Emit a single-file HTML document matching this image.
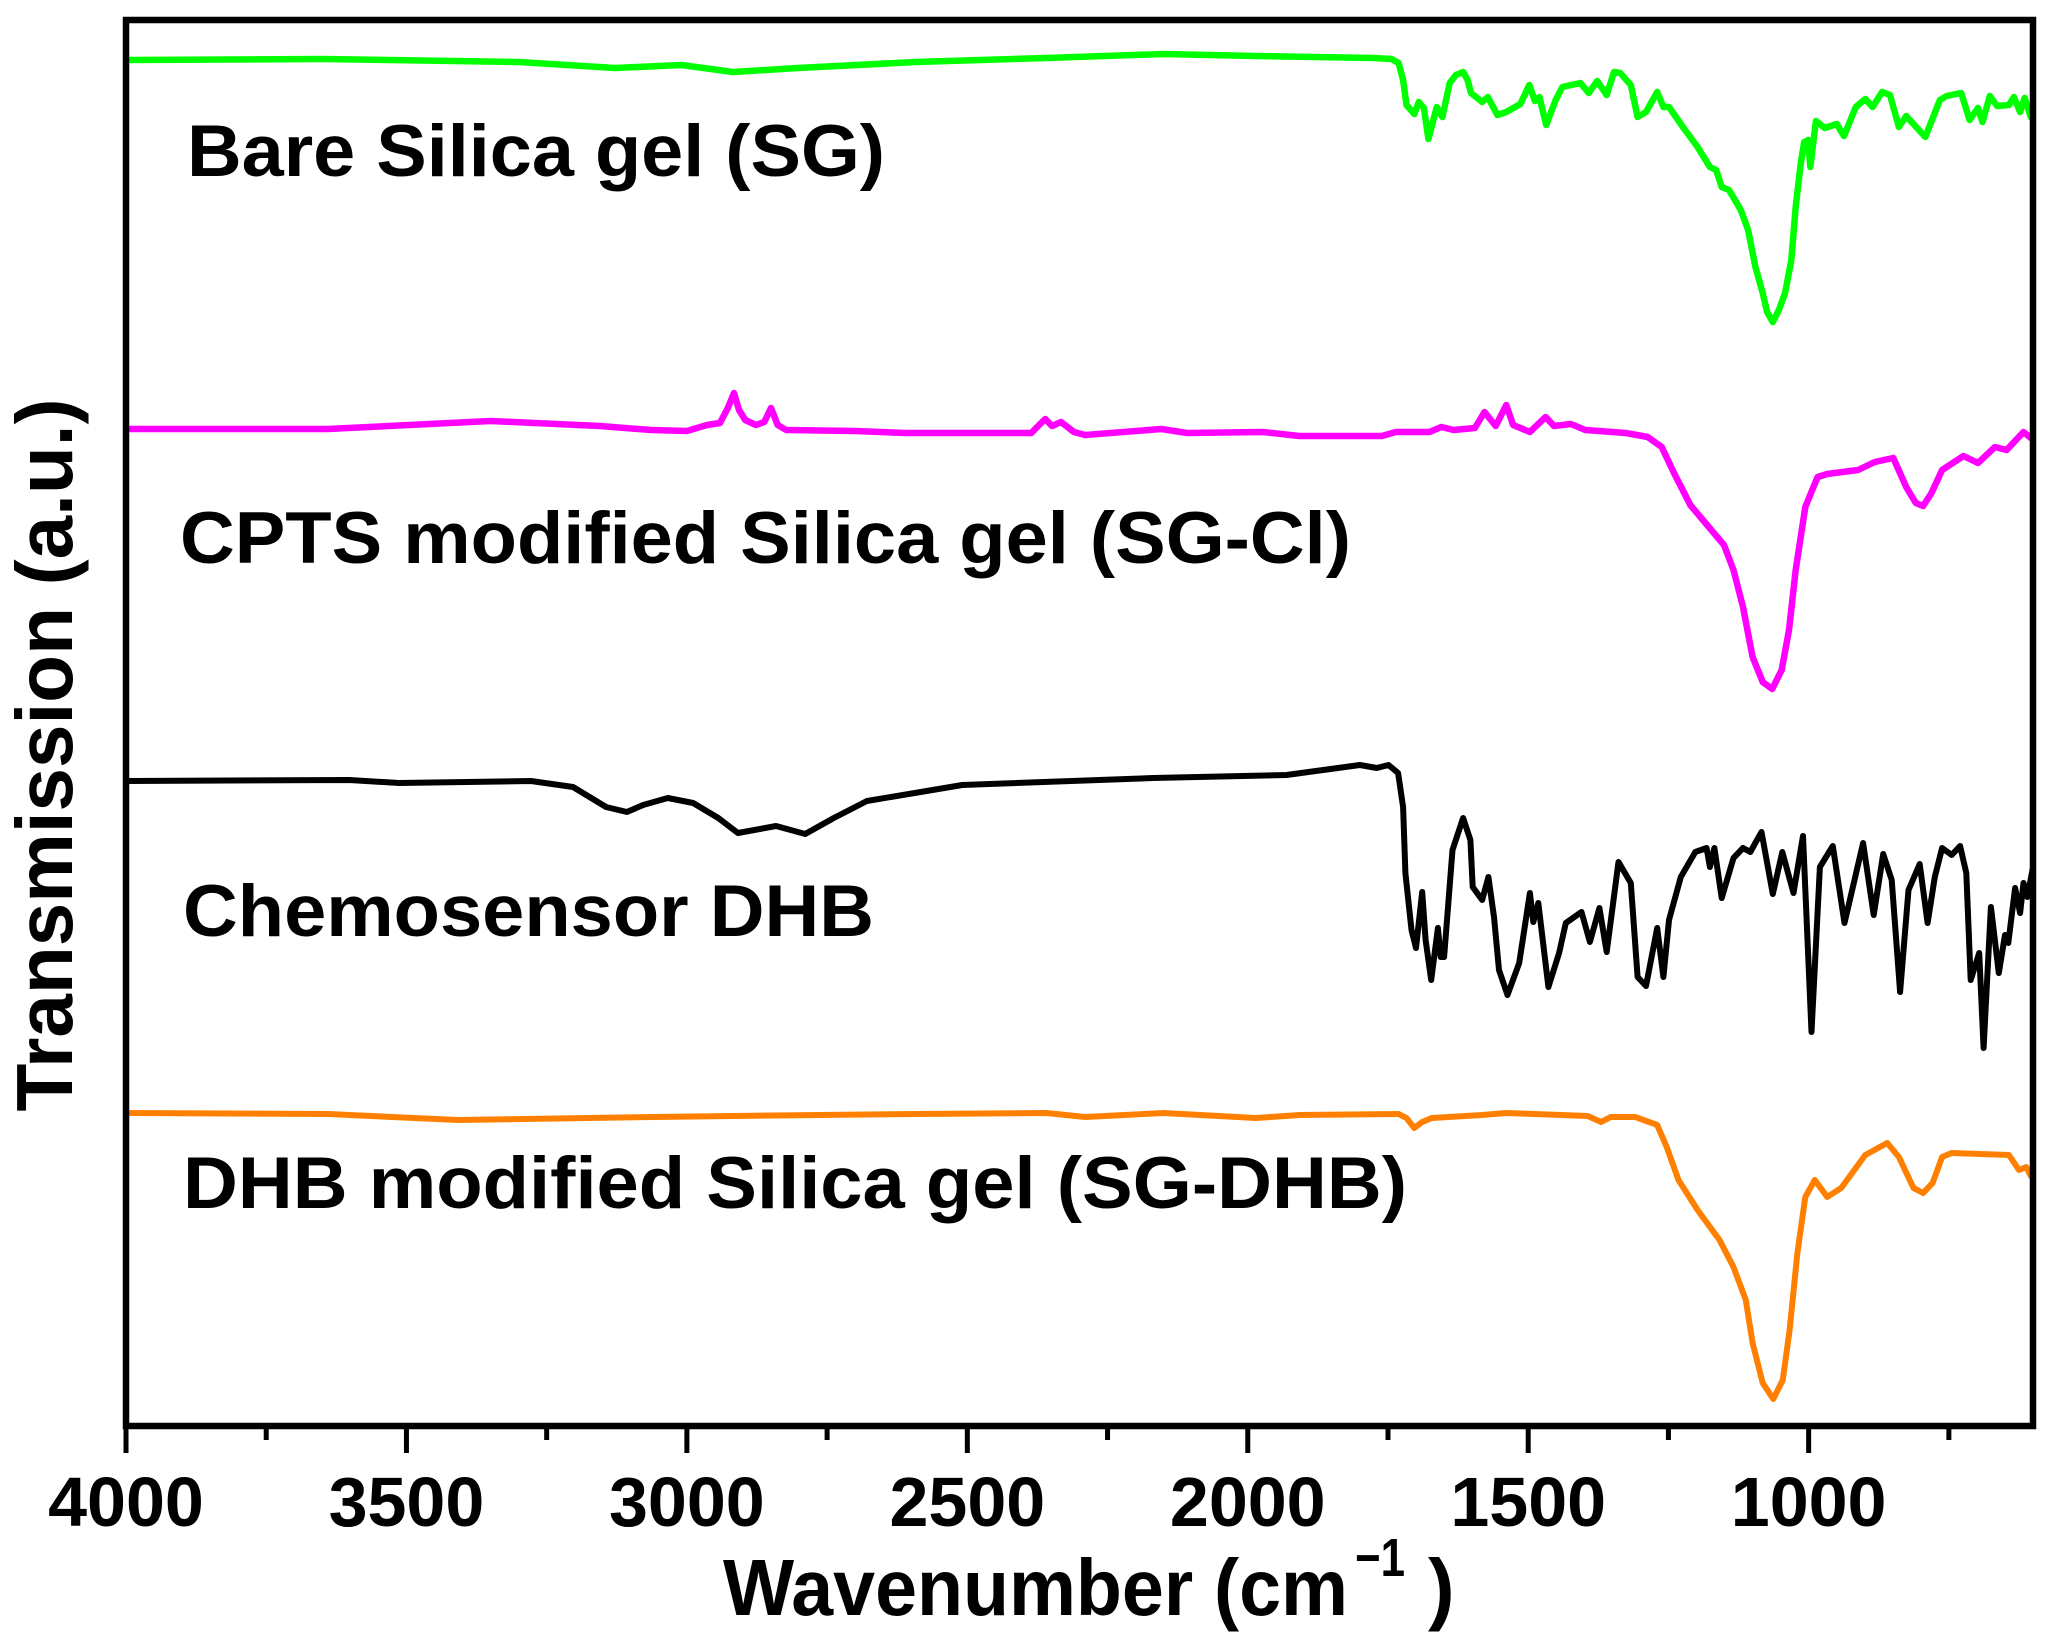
<!DOCTYPE html>
<html lang="en">
<head>
<meta charset="utf-8">
<title>FTIR spectra of silica gel samples</title>
<style>
html,body{margin:0;padding:0;background:#fff;width:2051px;height:1642px;overflow:hidden}
svg{display:block}
text{font-family:"Liberation Sans",Arial,sans-serif;font-weight:bold;fill:#000}
</style>
</head>
<body>
<svg id="chart" xmlns="http://www.w3.org/2000/svg" width="2051" height="1642" viewBox="0 0 2051 1642">
  <rect x="0" y="0" width="2051" height="1642" fill="#fff"/>
  <g id="series-layer"></g>
  <rect x="126" y="20" width="1907" height="1406" fill="none" stroke="#000" stroke-width="6.5"/>
  <g id="tick-layer"></g>
  <text x="187" y="176" font-size="73" textLength="698" lengthAdjust="spacingAndGlyphs">Bare Silica gel (SG)</text>
  <text x="180" y="563" font-size="73" textLength="1171" lengthAdjust="spacingAndGlyphs">CPTS modified Silica gel (SG-Cl)</text>
  <text x="183" y="936" font-size="73" textLength="691" lengthAdjust="spacingAndGlyphs">Chemosensor DHB</text>
  <text x="183" y="1208" font-size="73" textLength="1224" lengthAdjust="spacingAndGlyphs">DHB modified Silica gel (SG-DHB)</text>
  <text transform="translate(72,755) rotate(-90)" text-anchor="middle" font-size="80" textLength="713" lengthAdjust="spacingAndGlyphs">Transmission (a.u.)</text>
  <text x="723" y="1615" font-size="80" textLength="625" lengthAdjust="spacingAndGlyphs">Wavenumber (cm</text>
  <text x="1355" y="1576" font-size="54" textLength="50" lengthAdjust="spacingAndGlyphs">−1</text>
  <text x="1428" y="1615" font-size="80">)</text>
</svg>
<script>
const majorTicks = [4000, 3500, 3000, 2500, 2000, 1500, 1000];
const majorTickLabels = ["4000", "3500", "3000", "2500", "2000", "1500", "1000"];
const minorTicks = [3750, 3250, 2750, 2250, 1750, 1250, 750];

const greenWavenumbers = [4000,3650,3300,3128,3010,2918,2802,2592,2359,2150,1986,1776,1744,1731,1723,1717,1703,1695,1686,1678,1663,1653,1640,1629,1616,1608,1602,1582,1572,1555,1539,1514,1498,1488,1480,1468,1451,1439,1407,1392,1377,1360,1347,1336,1317,1305,1290,1270,1259,1249,1223,1198,1176,1165,1155,1142,1121,1108,1095,1082,1074,1064,1053,1042,1031,1023,1014,1008,1001,997,987,971,950,937,916,899,886,869,855,839,826,792,766,754,728,713,698,690,677,664,643,634,623,615,604];
const greenValues = [136.6,136.7,136.4,135.8,136.1,135.4,135.8,136.4,136.8,137.2,137.0,136.8,136.7,136.3,134.6,132.1,131.2,132.4,131.8,128.7,131.9,130.9,134.3,135.1,135.4,134.6,133.3,132.4,132.9,131.1,131.4,132.2,134.1,132.5,132.9,130.1,132.6,133.9,134.3,133.3,134.5,133.1,135.4,135.3,134.1,130.9,131.4,133.4,131.9,131.9,129.8,127.9,125.9,125.6,123.9,123.6,121.6,119.6,115.9,113.3,111.4,110.4,111.6,113.3,116.6,121.9,126.3,128.4,128.6,125.9,130.5,129.8,130.2,129.0,131.9,132.7,131.9,133.4,133.1,129.9,131.0,128.9,132.6,133.0,133.3,130.6,131.8,130.4,133.0,132.0,132.1,132.9,131.4,132.8,130.9];

const magentaWavenumbers = [4000,3640,3350,3155,3064,3000,2964,2941,2927,2916,2907,2896,2877,2862,2850,2838,2823,2700,2609,2386,2372,2361,2349,2333,2310,2290,2154,2108,1973,1908,1761,1736,1676,1655,1633,1595,1578,1558,1539,1527,1497,1469,1454,1424,1398,1326,1287,1262,1240,1211,1181,1151,1134,1117,1100,1082,1065,1048,1035,1023,1006,984,967,912,882,849,826,809,796,781,762,724,698,668,647,617,604];
const magentaValues = [99.7,99.7,100.5,100,99.6,99.5,100.1,100.3,101.8,103.3,101.6,100.6,100.1,100.4,101.8,100.1,99.6,99.5,99.3,99.3,100.1,100.7,100,100.4,99.4,99.1,99.7,99.3,99.4,99,99,99.4,99.4,99.9,99.6,99.8,101.4,100,102.1,100.1,99.4,100.9,100,100.2,99.6,99.3,98.9,97.9,95.3,92.1,90.1,88.1,85.6,81.9,76.9,74.4,73.7,75.6,79.6,85.6,91.9,94.9,95.2,95.6,96.4,96.8,93.9,92.3,92,93.3,95.6,97,96.3,97.9,97.6,99.4,98.8];

const blackWavenumbers = [4000,3602,3513,3278,3203,3144,3107,3078,3034,2989,2944,2909,2841,2789,2738,2679,2509,2169,1931,1800,1770,1749,1732,1723,1719,1708,1700,1689,1683,1673,1661,1656,1650,1635,1616,1603,1599,1582,1571,1561,1552,1537,1516,1497,1491,1482,1464,1445,1433,1405,1390,1373,1360,1339,1317,1305,1290,1270,1259,1249,1228,1202,1182,1176,1168,1155,1134,1117,1104,1084,1064,1047,1027,1010,995,980,957,936,903,884,867,852,837,822,802,788,775,762,745,730,719,711,696,688,675,661,650,644,632,623,617,610,600];
const blackValues = [64.5,64.6,64.3,64.5,63.9,61.9,61.4,62.1,62.8,62.3,60.8,59.3,60,59.2,60.8,62.5,64.1,64.8,65.1,66.1,65.8,66.1,65.3,61.9,55.3,49.6,47.8,53.4,48.6,44.6,49.8,46.9,46.9,57.6,60.8,58.6,53.9,52.6,54.9,50.9,45.6,43.1,46.3,53.3,50.4,52.3,43.9,47.3,50.3,51.4,48.4,51.8,47.4,56.4,54.3,44.9,44,49.8,44.9,50.6,54.9,57.4,57.8,55.9,57.8,52.8,56.8,57.8,57.4,59.4,53.2,57.4,53.3,59,39.4,55.9,58,50.3,58.3,51.1,57.2,54.6,43.4,53.6,56.2,50.3,54.9,57.8,57.1,58,55.3,44.6,47.3,37.8,51.9,45.3,49.1,48.3,53.8,51.3,54.3,52.9,55.9];

const orangeWavenumbers = [4000,3640,3408,3058,2918,2592,2359,2290,2150,1986,1907,1731,1717,1703,1689,1672,1582,1539,1394,1370,1353,1309,1270,1253,1232,1198,1159,1134,1112,1100,1082,1063,1046,1034,1020,1006,989,967,942,899,860,839,813,796,779,762,745,643,625,612,604];
const orangeValues = [31.3,31.2,30.6,30.9,31,31.2,31.3,30.9,31.3,30.8,31.1,31.2,30.8,29.8,30.4,30.8,31.1,31.3,31,30.4,30.9,30.9,30.1,27.9,24.6,21.6,18.6,15.9,12.6,8.3,4.3,2.7,4.6,9.6,17.3,22.9,24.6,22.9,23.8,27.1,28.3,26.9,23.8,23.3,24.3,26.9,27.3,27.1,25.6,25.9,25];

const SVG_NS = "http://www.w3.org/2000/svg";

function xScale(wavenumber) {
  return 126 + (4000 - wavenumber) * (1907 / 3400);
}
function yScale(value) {
  return 1426 - value * 10;
}

function drawSeries(name, color, width, wavenumbers, values) {
  const line = document.createElementNS(SVG_NS, "polyline");
  
  
  const pts = wavenumbers.map(function (w, i) {
    return xScale(w).toFixed(1) + "," + yScale(values[i]).toFixed(1);
  });
  line.setAttribute("points", pts.join(" "));
  line.setAttribute("fill", "none");
  line.setAttribute("stroke", color);
  line.setAttribute("stroke-width", width);
  line.setAttribute("stroke-linejoin", "round");
  line.setAttribute("stroke-linecap", "round");
  document.getElementById("series-layer").appendChild(line);
}

drawSeries("series-bare-silica-gel", "#00ff00", "6.5", greenWavenumbers, greenValues);
drawSeries("series-cpts-modified-silica-gel", "#ff00ff", "6.5", magentaWavenumbers, magentaValues);
drawSeries("series-chemosensor-dhb", "#000000", "6", blackWavenumbers, blackValues);
drawSeries("series-dhb-modified-silica-gel", "#ff8000", "6", orangeWavenumbers, orangeValues);

const tickLayer = document.getElementById("tick-layer");

majorTicks.forEach(function (w, i) {
  const tick = document.createElementNS(SVG_NS, "line");
  
  
  tick.setAttribute("x1", xScale(w));
  tick.setAttribute("x2", xScale(w));
  tick.setAttribute("y1", 1426);
  tick.setAttribute("y2", 1453);
  tick.setAttribute("stroke", "#000");
  tick.setAttribute("stroke-width", "5");
  tickLayer.appendChild(tick);

  const label = document.createElementNS(SVG_NS, "text");
  
  
  label.setAttribute("x", xScale(w));
  label.setAttribute("y", 1526);
  label.setAttribute("text-anchor", "middle");
  label.setAttribute("font-size", "70");
  label.textContent = majorTickLabels[i];
  tickLayer.appendChild(label);
});

minorTicks.forEach(function (w) {
  const tick = document.createElementNS(SVG_NS, "line");
  
  
  tick.setAttribute("x1", xScale(w));
  tick.setAttribute("x2", xScale(w));
  tick.setAttribute("y1", 1426);
  tick.setAttribute("y2", 1440);
  tick.setAttribute("stroke", "#000");
  tick.setAttribute("stroke-width", "5");
  tickLayer.appendChild(tick);
});
</script>
</body>
</html>
